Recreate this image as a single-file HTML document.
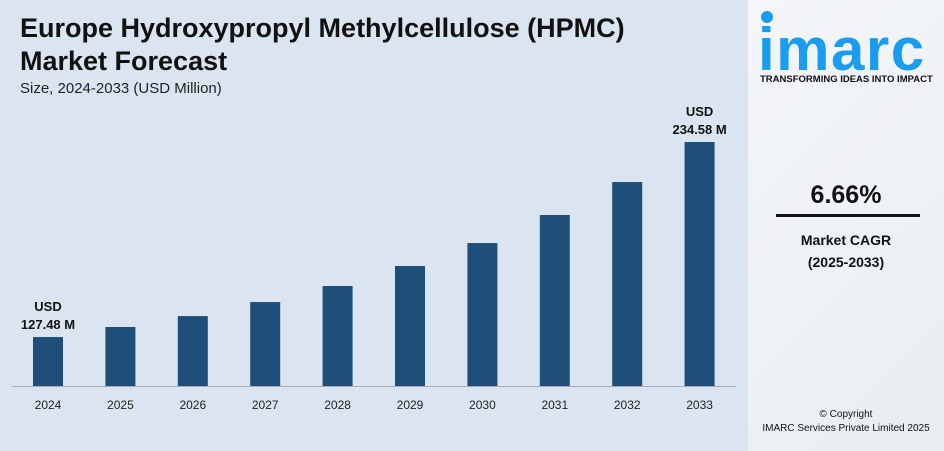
<!DOCTYPE html>
<html><head><meta charset="utf-8"><style>
body{margin:0;width:944px;height:451px;overflow:hidden;font-family:"Liberation Sans",sans-serif;}
#left{position:absolute;left:0;top:0;width:748px;height:451px;background:#dbe5f1;}
#right{position:absolute;left:748px;top:0;width:196px;height:451px;background:linear-gradient(135deg,#f4f6f9,#e9edf2);}
.t{position:absolute;font-weight:bold;color:#111;}
</style></head><body>
<div id="left">
<div class="t" style="left:20px;top:12px;font-size:27px;line-height:33px;white-space:nowrap;">Europe Hydroxypropyl Methylcellulose (HPMC)<br>Market Forecast</div>
<div style="position:absolute;left:20px;top:80px;font-size:15px;color:#222;">Size, 2024-2033 (USD Million)</div>
<svg id="chart" width="748" height="451" style="position:absolute;left:0;top:0"></svg>
</div>
<div id="right">
<div style="position:absolute;left:10px;top:8px;width:186px;height:70px;">
<div style="position:absolute;left:3px;top:3px;width:12px;height:12px;border-radius:50%;background:#1a9cf0"></div>
<div style="position:absolute;left:0;top:12px;font-size:60px;font-weight:bold;color:#1a9cf0;letter-spacing:1.5px;line-height:60px;">imarc</div>
</div>
<div style="position:absolute;left:12px;top:74px;font-size:9.5px;font-weight:bold;color:#111;white-space:nowrap;letter-spacing:0px;">TRANSFORMING IDEAS INTO IMPACT</div>
<div class="t" style="left:0;width:196px;text-align:center;top:181px;font-size:25px;">6.66%</div>
<div style="position:absolute;left:28px;top:214px;width:144px;height:3px;background:#111"></div>
<div class="t" style="left:0;width:196px;text-align:center;top:229px;font-size:14px;line-height:22px;">Market CAGR<br>(2025-2033)</div>
<div style="position:absolute;left:0;width:196px;text-align:center;top:408px;font-size:10px;line-height:14px;color:#111;">© Copyright<br>IMARC Services Private Limited 2025</div>
</div>
<script>
const years=["2024","2025","2026","2027","2028","2029","2030","2031","2032","2033"];
const values=[127.48,133.0,139.0,146.7,155.5,166.5,179.1,194.5,212.6,234.58];
const svg=document.getElementById('chart');const NS='http://www.w3.org/2000/svg';
const base=386,vmin=100.6,k=1.821;
function y(v){return base-(v-vmin)*k;}
function x(i){return 48+i*72.4;}
function mk(t,a){const e=document.createElementNS(NS,t);for(const n in a)e.setAttribute(n,a[n]);svg.appendChild(e);return e;}
const ax=mk('line',{x1:12,x2:736,y1:base+0.5,y2:base+0.5,stroke:'#aab',"stroke-width":1});


years.forEach((yr,i)=>{
const r=mk('rect',{x:x(i)-15,y:y(values[i]),width:30,height:base-y(values[i]),fill:'#1f4e79'});


const t=mk('text',{x:x(i),y:409,"text-anchor":'middle',"font-size":12,fill:'#222'});t.textContent=yr;


});
[0,9].forEach(i=>{
const yy=y(values[i]);
const a=mk('text',{x:x(i),y:yy-26,"text-anchor":'middle',"font-size":13,"font-weight":'bold',fill:'#111'});a.textContent='USD';


const b=mk('text',{x:x(i),y:yy-8,"text-anchor":'middle',"font-size":13,"font-weight":'bold',fill:'#111'});b.textContent=values[i].toFixed(2)+' M';


});
</script>
</body></html>
